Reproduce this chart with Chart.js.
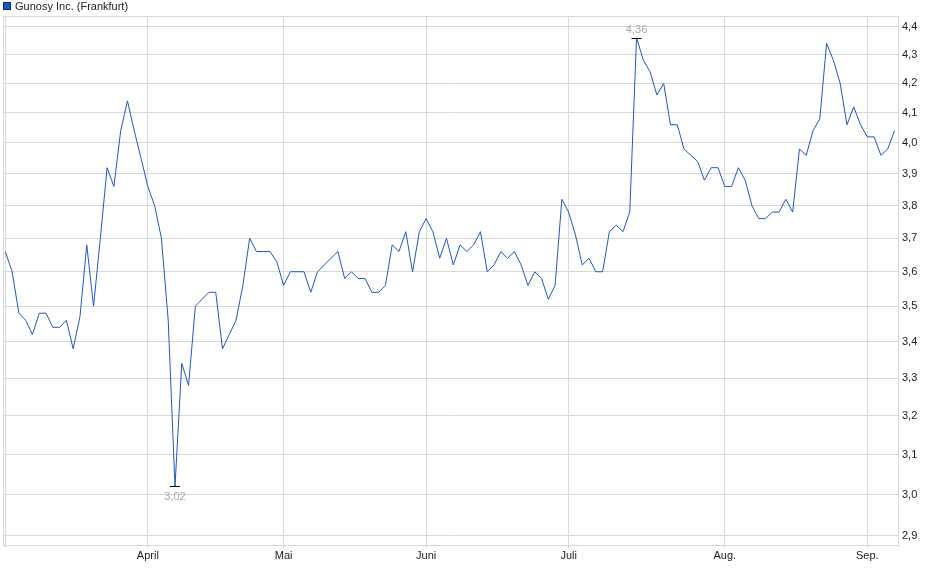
<!DOCTYPE html>
<html lang="de">
<head>
    <meta charset="UTF-8">
    <title>Gunosy Inc. (Frankfurt)</title>
    <script src="https://cdn.jsdelivr.net/npm/chart.js"></script>
    <style>
        html, body { margin: 0; padding: 0; background: #fff; }
        #wrap { width: 940px; height: 579px; }
    </style>
</head>
<body>
    <div id="wrap"><canvas id="myChart"></canvas></div>

    <script>
        // Schlusskurse, ein Wert pro Handelstag (3. März bis 5. Sep.)
        const prices = [
            3.66, 3.60, 3.48, 3.46, 3.42, 3.48, 3.48, 3.44, 3.44, 3.46,
            3.38, 3.47, 3.68, 3.50, 3.70, 3.92, 3.86, 4.04, 4.14, 4.04,
            3.95, 3.86, 3.80, 3.70, 3.46, 3.02, 3.34, 3.28, 3.50, 3.52,
            3.54, 3.54, 3.38, 3.42, 3.46, 3.56, 3.70, 3.66, 3.66, 3.66,
            3.63, 3.56, 3.60, 3.60, 3.60, 3.54, 3.60, 3.62, 3.64, 3.66,
            3.58, 3.60, 3.58, 3.58, 3.54, 3.54, 3.56, 3.68, 3.66, 3.72,
            3.60, 3.72, 3.76, 3.72, 3.64, 3.70, 3.62, 3.68, 3.66, 3.68,
            3.72, 3.60, 3.62, 3.66, 3.64, 3.66, 3.62, 3.56, 3.60, 3.58,
            3.52, 3.56, 3.82, 3.78, 3.71, 3.62, 3.64, 3.60, 3.60, 3.72,
            3.74, 3.72, 3.78, 4.36, 4.28, 4.24, 4.16, 4.20, 4.06, 4.06,
            3.98, 3.96, 3.94, 3.88, 3.92, 3.92, 3.86, 3.86, 3.92, 3.88,
            3.80, 3.76, 3.76, 3.78, 3.78, 3.82, 3.78, 3.98, 3.96, 4.04,
            4.08, 4.34, 4.28, 4.20, 4.06, 4.12, 4.06, 4.02, 4.02, 3.96,
            3.98, 4.04
        ];
        // erster Handelstag je Monat (Index in prices) und Beschriftung
        const monthStarts = [0, 21, 41, 62, 83, 106, 127];
        const monthLabels = ['', 'April', 'Mai', 'Juni', 'Juli', 'Aug.', 'Sep.'];
        const yTicks = [2.9, 3.0, 3.1, 3.2, 3.3, 3.4, 3.5, 3.6, 3.7, 3.8, 3.9, 4.0, 4.1, 4.2, 4.3, 4.4];

        const seriesName = 'Gunosy Inc. (Frankfurt)';
        const lineColor = '#1c58c4';
        const gridColor = '#d9d9d9';
        const fontFamily = '"Liberation Sans", Arial, sans-serif';

        const fmt = v => v.toFixed(2).replace('.', ',');

        // Rahmen, Legende und Min/Max-Markierung
        const decorations = {
            id: 'decorations',
            beforeDatasetsDraw(chart) {
                const { ctx, chartArea: a } = chart;
                ctx.save();
                ctx.strokeStyle = gridColor;
                ctx.lineWidth = 1;
                ctx.strokeRect(Math.round(a.left) + 0.5, Math.round(a.top) + 0.5,
                    Math.round(a.right - a.left), Math.round(a.bottom - a.top));
                ctx.restore();
            },
            afterDatasetsDraw(chart) {
                const { ctx } = chart;
                const xs = chart.scales.x, ys = chart.scales.y;
                ctx.save();

                // Legende
                ctx.fillStyle = lineColor;
                ctx.fillRect(3, 2, 8, 8);
                ctx.strokeStyle = '#0b2a66';
                ctx.strokeRect(3.5, 2.5, 7, 7);
                ctx.fillStyle = '#222';
                ctx.font = '11px ' + fontFamily;
                ctx.textAlign = 'left';
                ctx.textBaseline = 'middle';
                ctx.fillText(seriesName, 15, 6.5);

                // Hoch / Tief
                const hi = Math.max(...prices), lo = Math.min(...prices);
                const marks = [
                    { i: prices.indexOf(hi), v: hi, dy: -9 },
                    { i: prices.indexOf(lo), v: lo, dy: 10 }
                ];
                ctx.textAlign = 'center';
                marks.forEach(m => {
                    const px = xs.getPixelForValue(m.i);
                    const py = Math.round(ys.getPixelForValue(m.v)) + 0.5;
                    ctx.strokeStyle = '#000';
                    ctx.beginPath();
                    ctx.moveTo(px - 5, py);
                    ctx.lineTo(px + 5, py);
                    ctx.stroke();
                    ctx.fillStyle = '#a8a8a8';
                    ctx.fillText(fmt(m.v), px, py + m.dy);
                });
                ctx.restore();
            }
        };

        const ctx = document.getElementById('myChart').getContext('2d');
        const myChart = new Chart(ctx, {
            type: 'line',
            data: {
                datasets: [{
                    label: seriesName,
                    data: prices.map((v, i) => ({ x: i, y: v })),
                    borderColor: lineColor,
                    backgroundColor: lineColor,
                    borderWidth: 1,
                    pointRadius: 0,
                    tension: 0
                }]
            },
            options: {
                responsive: true,
                maintainAspectRatio: false,
                animation: false,
                devicePixelRatio: 1,
                layout: { padding: { left: 3, top: 16, right: 0, bottom: 0 } },
                plugins: {
                    legend: { display: false },
                    tooltip: { enabled: false }
                },
                scales: {
                    x: {
                        type: 'linear',
                        min: -0.34,
                        max: 131.52,
                        afterBuildTicks: s => { s.ticks = monthStarts.map(v => ({ value: v })); },
                        afterFit: s => { s.height = 34; },
                        ticks: {
                            autoSkip: false,
                            maxRotation: 0,
                            padding: 1,
                            color: '#222',
                            font: { family: fontFamily, size: 11 },
                            callback: (v) => monthLabels[monthStarts.indexOf(v)] || ''
                        },
                        grid: { color: gridColor, tickLength: 3, tickColor: gridColor },
                        border: { color: gridColor }
                    },
                    y: {
                        type: 'logarithmic',
                        position: 'right',
                        min: 2.8787,
                        max: 4.438,
                        afterBuildTicks: s => { s.ticks = yTicks.map(v => ({ value: v })); },
                        afterFit: s => { s.width = 42; },
                        ticks: {
                            padding: 4,
                            color: '#222',
                            font: { family: fontFamily, size: 11 },
                            callback: v => v.toFixed(1).replace('.', ',')
                        },
                        grid: { color: gridColor, drawTicks: false },
                        border: { color: gridColor }
                    }
                }
            },
            plugins: [decorations]
        });
    </script>
</body>
</html>
